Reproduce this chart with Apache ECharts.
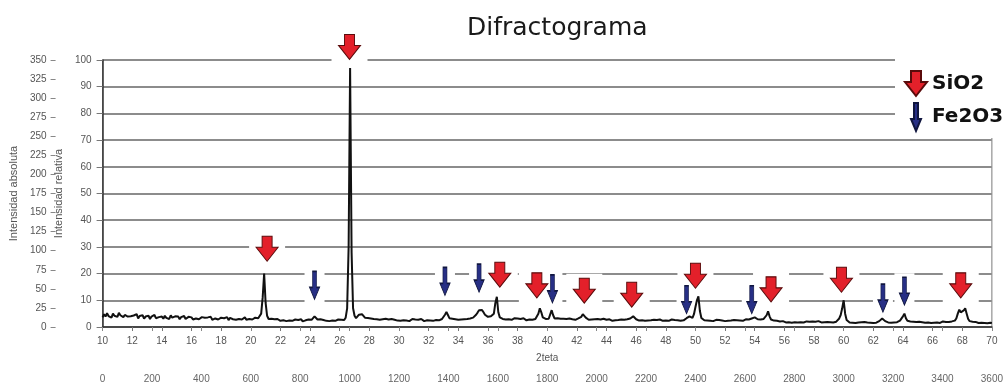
<!DOCTYPE html>
<html>
<head>
<meta charset="utf-8">
<script src="https://cdn.jsdelivr.net/npm/echarts@6/dist/echarts.min.js"></script>
<style>html,body{margin:0;padding:0;background:#fff}#c{width:1006px;height:390px}</style>
</head>
<body>
<div id="c"></div>
<script>
// 2-theta sampling of the trace
const startAngle = 10;
const angleStep = 0.1;
// relative intensity (%), one row per degree (x.0 .. x.9)
const intensity = [
3.6,4.8,3.9,5.2,4.1,4.6,3.5,5.0,4.2,4.7, // 10
3.8,5.3,4.4,4.9,3.7,4.5,5.1,3.9,4.6,4.0, // 11
3.4,4.3,3.7,4.8,3.2,4.1,3.6,4.4,3.1,3.9, // 12
3.5,4.2,3.0,3.9,3.6,4.5,3.3,4.0,3.7,3.2, // 13
3.9,3.1,4.2,3.4,3.8,3.0,4.4,3.5,3.2,4.0, // 14
3.3,3.9,2.9,3.7,3.4,4.1,3.0,3.6,3.8,3.1, // 15
3.6,2.8,3.5,3.2,3.9,2.9,3.4,3.7,3.0,3.5, // 16
2.9,3.6,3.1,3.8,2.7,3.4,3.2,3.9,2.8,3.3, // 17
3.5,2.8,3.3,3.0,3.7,2.6,3.4,3.1,2.9,3.6, // 18
2.7,3.4,3.0,3.5,2.8,3.2,3.6,2.7,3.3,3.0, // 19
3.4,2.8,3.2,3.5,2.9,3.3,3.6,5.0,11.0,20.0, // 20
9.0,4.2,3.0,2.6,3.1,2.5,2.9,2.4,3.0,2.6, // 21
2.3,2.9,2.5,2.8,2.2,2.7,2.4,3.0,2.3,2.6, // 22
2.8,2.2,2.6,2.4,2.9,2.1,2.7,2.5,2.3,2.8, // 23
2.4,2.7,3.3,4.0,3.4,2.8,2.5,2.9,2.2,2.6, // 24
2.8,2.3,2.6,2.2,2.7,2.4,2.9,2.3,2.5,2.8, // 25
2.4,2.7,2.3,2.6,3.5,7.0,30.0,97.0,28.0,7.0, // 26
4.2,3.3,3.8,4.6,5.3,4.8,4.1,3.5,3.0,3.4, // 27
2.8,3.2,2.6,3.0,2.5,2.9,3.3,2.7,2.4,2.9, // 28
2.6,3.1,2.4,2.8,2.5,3.0,2.3,2.7,2.9,2.4, // 29
2.7,2.3,2.9,2.5,3.1,2.4,2.8,2.2,2.6,3.0, // 30
2.5,2.8,2.3,2.7,2.4,3.0,2.6,2.2,2.8,2.5, // 31
2.9,2.4,2.7,2.3,2.8,2.6,3.1,2.5,2.7,3.0, // 32
3.4,4.6,5.6,4.5,3.3,2.8,3.1,2.6,2.9,3.2, // 33
2.7,3.1,2.8,3.3,2.9,3.5,3.0,3.4,3.2,3.7, // 34
3.5,4.0,4.6,5.4,6.3,6.9,6.4,5.5,4.6,4.0, // 35
3.8,3.6,4.0,3.7,5.0,9.0,11.3,5.5,3.6,3.2, // 36
3.0,3.4,2.8,3.2,2.9,3.5,2.7,3.1,3.3,2.8, // 37
3.2,2.7,3.0,2.6,3.3,2.9,2.5,3.1,2.8,3.0, // 38
2.7,3.2,3.0,3.6,5.0,7.0,5.5,3.6,3.3,3.0, // 39
3.4,3.1,3.8,6.3,4.4,3.2,3.0,3.3,2.8,3.1, // 40
2.7,3.1,2.6,3.0,2.8,3.2,2.5,2.9,3.1,2.7, // 41
2.9,3.2,3.0,3.8,4.8,4.4,3.5,3.0,2.7,3.1, // 42
2.8,2.5,2.9,2.6,3.0,2.4,2.8,2.6,3.1,2.5, // 43
2.7,2.4,2.9,2.6,2.3,2.8,2.5,3.0,2.6,2.4, // 44
2.8,2.5,2.7,2.4,2.9,2.6,3.2,3.8,4.0,3.4, // 45
2.9,2.6,2.4,2.8,2.5,2.7,2.3,2.6,2.4,2.8, // 46
2.5,2.3,2.7,2.4,2.6,2.2,2.8,2.5,2.3,2.6, // 47
2.4,2.7,2.3,2.5,2.8,2.4,2.6,2.2,2.5,2.7, // 48
2.3,2.6,2.5,2.9,3.3,3.8,4.0,3.6,3.4,4.8, // 49
7.5,10.0,11.5,6.0,3.4,2.8,2.5,2.7,2.4,2.6, // 50
2.3,2.6,2.2,2.5,2.7,2.3,2.6,2.1,2.4,2.6, // 51
2.2,2.5,2.3,2.7,2.4,2.2,2.6,2.3,2.5,2.8, // 52
2.4,2.7,2.3,2.6,2.9,2.5,2.8,3.0,3.2,3.4, // 53
3.6,3.1,2.9,3.3,2.8,3.2,3.0,3.4,4.4,5.9, // 54
4.0,2.8,2.2,2.4,2.0,2.3,1.9,2.1,1.8,2.2, // 55
1.9,1.7,2.1,1.8,2.2,1.6,2.0,1.8,2.1,1.7, // 56
2.0,1.8,2.2,1.7,1.9,2.1,1.6,2.0,1.8,2.1, // 57
1.7,2.0,1.8,2.2,1.9,1.7,2.1,1.8,2.0,1.9, // 58
2.1,1.8,2.0,1.7,2.2,2.0,2.5,3.2,4.5,7.0, // 59
10.0,5.0,2.6,2.0,1.7,1.9,1.6,1.8,1.5,1.9, // 60
1.7,1.5,1.8,1.6,1.9,1.5,1.7,2.0,1.6,1.8, // 61
1.5,1.8,1.6,1.9,2.2,2.6,3.2,2.7,2.2,1.9, // 62
1.7,2.0,1.6,1.9,1.7,2.1,1.8,2.0,2.4,3.0, // 63
4.0,5.0,3.3,2.3,1.9,2.1,1.7,2.0,1.6,1.9, // 64
1.7,2.0,1.5,1.8,2.1,1.6,1.9,1.7,2.0,1.5, // 65
1.8,1.6,1.9,1.7,2.0,1.5,1.8,2.1,1.7,1.9, // 66
1.6,1.9,1.7,2.1,1.8,2.4,3.2,5.0,6.5,5.5, // 67
5.3,6.2,7.0,5.0,3.0,2.2,1.8,2.0,1.6,1.9, // 68
1.7,1.5,1.8,1.6,1.9,1.5,1.7,1.4,1.8,1.6, // 69
1.5 // 70
];
// peak markers [2theta, relative level]
const sio2Marks = [[26.66,104.9],[21.1,29.3],[36.8,19.6],[39.3,15.6],[42.5,13.6],[45.7,12.1],[50.0,19.2],[55.1,14.1],[59.85,17.7],[67.9,15.6]];
const fe2o3Marks = [[24.3,15.6],[33.1,17.1],[35.4,18.3],[40.35,14.3],[49.4,10.2],[53.8,10.2],[62.65,10.8],[64.1,13.4]];

const titleText = 'Difractograma';
const xName = '2teta';
const yRelName = 'Intensidad relativa';
const yAbsName = 'Intensidad absoluta';

const redArrow = 'path://M6,0 L16,0 L16,11 L22,11 L11,25 L0,11 L6,11 Z';
const blueArrow = 'path://M3,0 L7,0 L7,16 L10,16 L5,28 L0,16 L3,16 Z';

const trace = intensity.map((v, i) => [+(startAngle + i * angleStep).toFixed(1), v]);

const lblFont = 'Liberation Sans';
const plain = v => String(v);
const chart = echarts.init(document.getElementById('c'), null, {renderer: 'canvas'});
chart.setOption({
  animation: false,
  backgroundColor: '#fff',
  title: {
    text: titleText, left: 462, top: 11,
    textStyle: {fontFamily: 'DejaVu Sans', fontSize: 25, fontWeight: 'normal', color: '#1a1a1a'}
  },
  legend: {
    orient: 'vertical', left: 895, top: 58,
    itemWidth: 22, itemHeight: 28, itemGap: 5,
    selectedMode: false,
    backgroundColor: '#fff',
    padding: [12, 30, 6, 9],
    textStyle: {fontFamily: 'DejaVu Sans', fontWeight: 'bold', fontSize: 20, color: '#111'},
    data: [{name: 'SiO2', icon: redArrow}, {name: 'Fe2O3', icon: blueArrow}]
  },
  grid: {left: 98, right: 12, top: 60, bottom: 63, show: true, borderColor: '#7a7a7a', borderWidth: 1, backgroundColor: 'transparent'},
  xAxis: [{
    type: 'value', min: 10, max: 70, interval: 2, position: 'bottom',
    name: xName, nameLocation: 'middle', nameGap: 26,
    nameTextStyle: {fontFamily: lblFont, fontSize: 10, color: '#555'},
    axisLine: {show: true, lineStyle: {color: '#333', width: 1.5}},
    axisTick: {show: true, length: 4, lineStyle: {color: '#777'}},
    axisLabel: {fontFamily: lblFont, fontSize: 10, color: '#555', margin: 9, formatter: plain},
    splitLine: {show: false}
  }, {
    type: 'value', min: 0, max: 3600, interval: 200, position: 'bottom', offset: 40,
    axisLine: {show: false},
    axisTick: {show: true, length: 4, lineStyle: {color: '#888'}},
    axisLabel: {fontFamily: lblFont, fontSize: 10, color: '#666', margin: 7, formatter: plain},
    splitLine: {show: false}
  }],
  yAxis: [{
    type: 'value', min: 0, max: 100, interval: 10, position: 'left',
    name: yRelName, nameLocation: 'middle', nameGap: 30, nameRotate: 90,
    nameTextStyle: {fontFamily: lblFont, fontSize: 11, color: '#555'},
    axisLine: {show: true, lineStyle: {color: '#333', width: 1.5}},
    axisTick: {show: true, length: 6, lineStyle: {color: '#777'}},
    axisLabel: {fontFamily: lblFont, fontSize: 10, color: '#555', margin: 11, formatter: plain},
    splitLine: {show: true, lineStyle: {color: '#8c8c8c', width: 2}}
  }, {
    type: 'value', min: 0, max: 350, interval: 25, position: 'left', offset: 47,
    name: yAbsName, nameLocation: 'middle', nameGap: 30, nameRotate: 90,
    nameTextStyle: {fontFamily: lblFont, fontSize: 11, color: '#555'},
    axisLine: {show: false},
    axisTick: {show: true, length: 5, lineStyle: {color: '#888'}},
    axisLabel: {fontFamily: lblFont, fontSize: 10, color: '#555', margin: 9, formatter: plain},
    splitLine: {show: false}
  }],
  series: [{
    name: 'halo', type: 'scatter', silent: true, z: 1, clip: false,
    symbol: 'rect', symbolSize: [36, 34],
    itemStyle: {color: '#fff', opacity: 1},
    data: sio2Marks
  }, {
    name: 'halo2', type: 'scatter', silent: true, z: 1, clip: false,
    symbol: 'rect', symbolSize: [20, 36],
    itemStyle: {color: '#fff', opacity: 1},
    data: fe2o3Marks
  }, {
    name: 'trace', type: 'line', z: 3, symbol: 'none', silent: true,
    lineStyle: {color: '#111', width: 2},
    data: trace
  }, {
    name: 'SiO2', type: 'scatter', z: 4, clip: false, silent: true,
    symbol: redArrow, symbolSize: [22, 25],
    itemStyle: {color: '#e3202a', borderColor: '#5a0b0b', borderWidth: 1, opacity: 1},
    data: sio2Marks
  }, {
    name: 'Fe2O3', type: 'scatter', z: 4, clip: false, silent: true,
    symbol: blueArrow, symbolSize: [10, 28],
    itemStyle: {color: '#272f85', borderColor: '#10163f', borderWidth: 1, opacity: 1},
    data: fe2o3Marks
  }]
});
</script>
</body>
</html>
